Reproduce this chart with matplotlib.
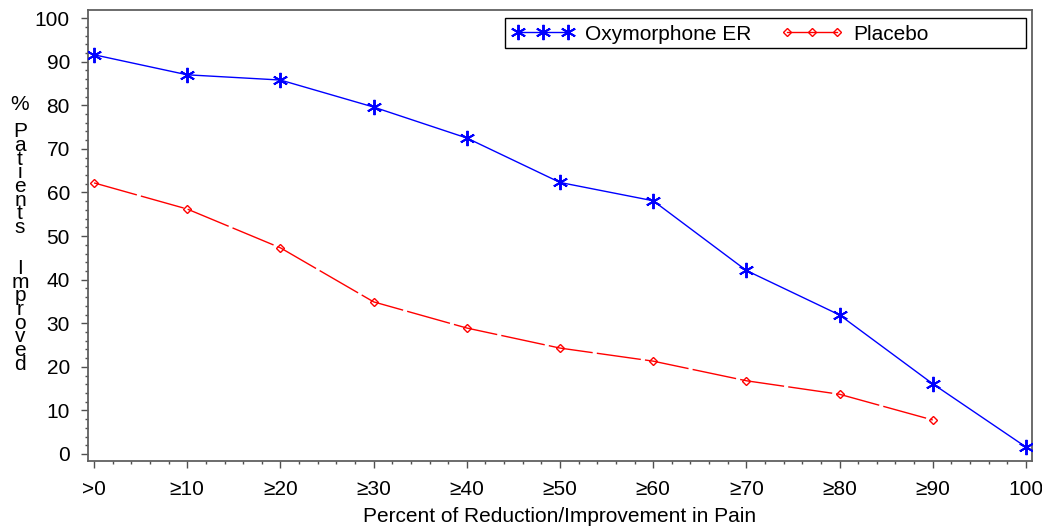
import matplotlib
matplotlib.use("Agg")
import matplotlib.pyplot as plt
from matplotlib.lines import Line2D
from matplotlib.patches import Rectangle
from matplotlib.ticker import AutoMinorLocator

plt.rcParams['font.family'] = ['Liberation Sans', 'DejaVu Sans']

# ---- data ----
x_oxy = [0, 10, 20, 30, 40, 50, 60, 70, 80, 90, 100]
oxy = [91.6, 87.0, 85.8, 79.6, 72.5, 62.3, 58.1, 42.1, 31.9, 16.1, 1.6]
x_pla = [0, 10, 20, 30, 40, 50, 60, 70, 80, 90]
placebo = [62.2, 56.2, 47.3, 34.9, 28.9, 24.3, 21.3, 16.8, 13.7, 7.8]
xticks = [0, 10, 20, 30, 40, 50, 60, 70, 80, 90, 100]
xticklabels = ['>0', '\u226510', '\u226520', '\u226530', '\u226540', '\u226550',
               '\u226560', '\u226570', '\u226580', '\u226590', '100']
yticks = [0, 10, 20, 30, 40, 50, 60, 70, 80, 90, 100]
series_names = ['Oxymorphone ER', 'Placebo']
ylabel_text = '%\n\nP\na\nt\ni\ne\nn\nt\ns\n\n\nI\nm\np\nr\no\nv\ne\nd'

W, H = 1042, 528
FS = 15
fig = plt.figure(figsize=(W / 100, H / 100), dpi=100)
ax = fig.add_axes([88 / W, 1 - 460.7 / H, (1032 - 88) / W, (460.7 - 10.3) / H])

star = (6, 2, 0)
ax.plot(x_oxy, oxy, color='#0000ff', lw=1.0, marker=star, markersize=11,
        markeredgewidth=1.4, zorder=3)
ax.plot(x_pla, placebo, color='#ff0000', lw=1.0, marker='D', markersize=3.8,
        markerfacecolor='none', markeredgewidth=1.0, dashes=(32, 3), zorder=3)

ax.set_xlim(-0.65, 100.65)
ax.set_ylim(-1.54, 101.8)
ax.set_xticks(xticks)
ax.set_xticklabels(xticklabels)
ax.set_yticks(yticks)
ax.xaxis.set_minor_locator(AutoMinorLocator(5))
ax.yaxis.set_minor_locator(AutoMinorLocator(5))
ax.tick_params(axis='both', which='major', direction='out', length=5,
               width=1.0, color='#505050', labelsize=FS)
ax.tick_params(axis='both', which='minor', direction='out', length=2.5,
               width=1.0, color='#505050')
ax.tick_params(axis='y', which='major', pad=8)
ax.tick_params(axis='x', which='major', pad=9)
for s in ax.spines.values():
    s.set_color('#606060')
    s.set_linewidth(1.3)

ax.set_xlabel('Percent of Reduction/Improvement in Pain', fontsize=FS, labelpad=6)

# vertical stacked y label (single text, one character per line)
fig.text(20 / W, 1 - 95 / H, ylabel_text, ha='center', va='top',
         fontsize=FS, linespacing=0.645, multialignment='center')

# legend
handles = [
    Line2D([], [], color='#0000ff', lw=1.0, marker=star, markersize=11, markeredgewidth=1.4),
    Line2D([], [], color='#ff0000', lw=1.0, marker='D', markersize=4,
           markerfacecolor='none', markeredgewidth=1.0),
]
leg = fig.legend(handles, series_names, loc='center left',
                 bbox_to_anchor=(512 / W, 1 - 34 / H), ncol=2, numpoints=3,
                 frameon=False, fontsize=FS, handlelength=3.0, handletextpad=0.5,
                 columnspacing=1.4, borderpad=0, borderaxespad=0)
fig.add_artist(Rectangle((505 / W, 1 - 48 / H), (1026 - 505) / W, 30 / H,
                         transform=fig.transFigure, fill=False, edgecolor='black',
                         lw=1.0))

fig.savefig('out.png', dpi=100)
